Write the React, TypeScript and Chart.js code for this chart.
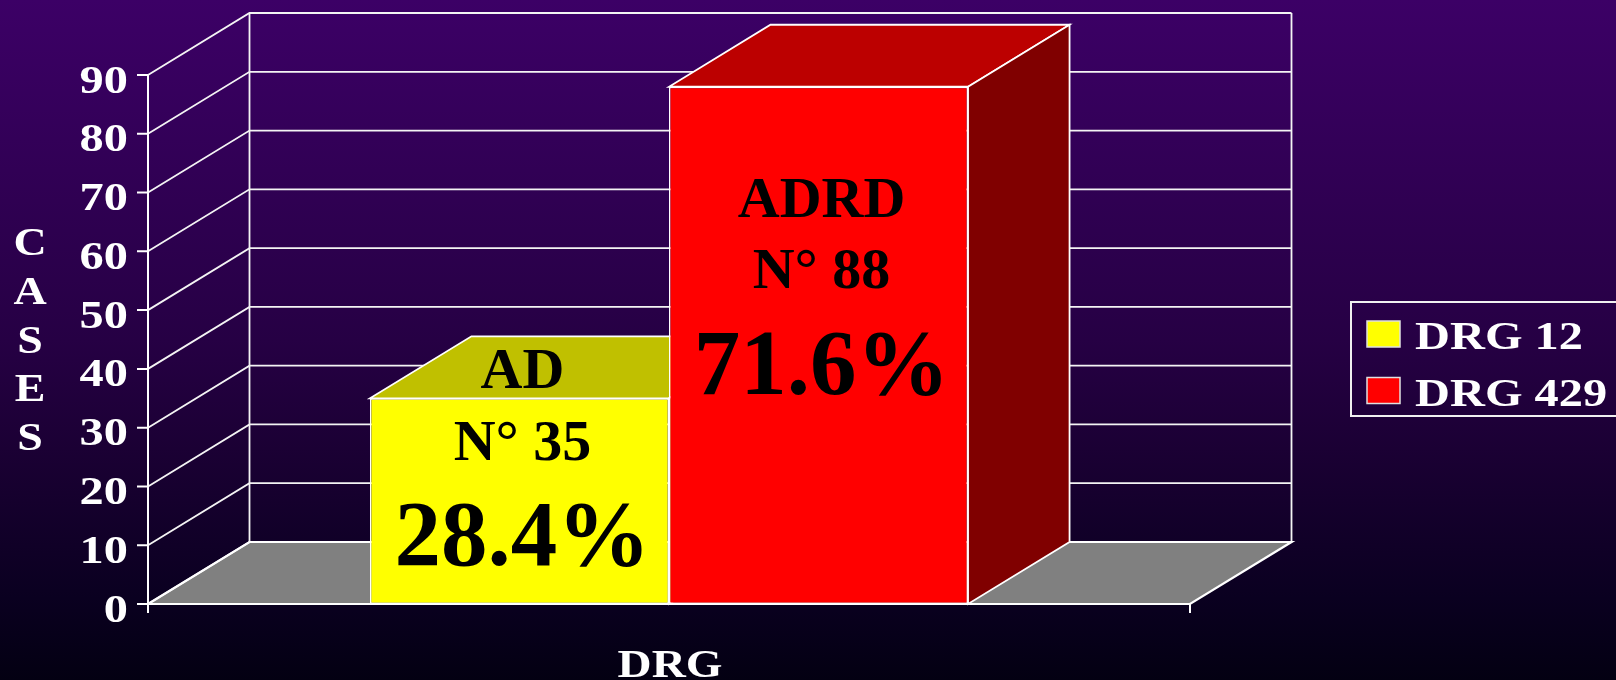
import React, { useEffect, useRef } from 'react';
import { Chart, registerables } from 'chart.js';

Chart.register(...registerables);

// ---- data ----
const categories = ['DRG'];
const seriesLabels = ['DRG 12', 'DRG 429'];
const seriesValues = [35, 88];
const seriesNames = ['AD', 'ADRD'];
const seriesShares = ['28.4%', '71.6%'];
const yTicks = [0, 10, 20, 30, 40, 50, 60, 70, 80, 90];
const yAxisTitle = 'CASES';
const xAxisTitle = 'DRG';

// ---- styles ----
const frontColors = ['#FFFF00', '#FF0000'];
const topColors = ['#C0C000', '#BC0000'];
const sideColors = ['#808000', '#800000'];
const DX = 101.5;
const DY = -62;
const SERIF = '"Liberation Serif", "Times New Roman", Times, serif';
const STRETCH = 1.18;

function drawText(ctx: CanvasRenderingContext2D, text: string, x: number, y: number, size: number, align: CanvasTextAlign, sx: number, color: string) {
  ctx.save();
  ctx.font = `bold ${size}px ${SERIF}`;
  ctx.fillStyle = color;
  ctx.textAlign = align;
  ctx.textBaseline = 'alphabetic';
  ctx.translate(x, y);
  ctx.scale(sx, 1);
  ctx.fillText(text, 0, 0);
  ctx.restore();
}

function poly(ctx: CanvasRenderingContext2D, pts: number[][]) {
  ctx.beginPath();
  ctx.moveTo(pts[0][0], pts[0][1]);
  for (let i = 1; i < pts.length; i++) ctx.lineTo(pts[i][0], pts[i][1]);
  ctx.closePath();
}

const pseudo3d = {
  id: 'pseudo3d',
  beforeDraw(chart: any) {
    const { ctx, width, height } = chart;
    const g = ctx.createLinearGradient(0, 0, 0, height);
    g.addColorStop(0, '#3C0066');
    g.addColorStop(0.5, '#260044');
    g.addColorStop(0.66, '#1B0034');
    g.addColorStop(0.88, '#0A0020');
    g.addColorStop(1, '#030012');
    ctx.save();
    ctx.fillStyle = g;
    ctx.fillRect(0, 0, width, height);
    ctx.restore();
  },
  beforeDatasetsDraw(chart: any) {
    const { ctx, chartArea: a, scales } = chart;
    const ys = scales.y;
    const L = a.left;
    const R = a.right;
    const B = ys.getPixelForValue(0);
    const T = ys.getPixelForValue(yTicks[yTicks.length - 1]);
    ctx.save();
    // floor
    poly(ctx, [[L, B], [R, B], [R + DX, B + DY], [L + DX, B + DY]]);
    ctx.fillStyle = '#808080';
    ctx.fill();
    // gridlines on side and back walls
    ctx.strokeStyle = '#F4F4F4';
    ctx.lineWidth = 1.8;
    yTicks.forEach((v) => {
      const y = ys.getPixelForValue(v);
      ctx.beginPath();
      ctx.moveTo(L, y);
      ctx.lineTo(L + DX, y + DY);
      if (v > 0) ctx.lineTo(R + DX, y + DY);
      ctx.stroke();
    });
    ctx.beginPath();
    ctx.moveTo(L + DX, B + DY);
    ctx.lineTo(L + DX, T + DY);
    ctx.moveTo(R + DX, B + DY);
    ctx.lineTo(R + DX, T + DY);
    ctx.stroke();
    // floor outline
    ctx.strokeStyle = '#FFFFFF';
    ctx.lineWidth = 2.2;
    poly(ctx, [[L, B], [R, B], [R + DX, B + DY], [L + DX, B + DY]]);
    ctx.stroke();
    // front axis + ticks
    ctx.lineWidth = 2;
    ctx.beginPath();
    ctx.moveTo(L, T);
    ctx.lineTo(L, B + 9);
    yTicks.forEach((v) => {
      const y = ys.getPixelForValue(v);
      ctx.moveTo(L - 11, y);
      ctx.lineTo(L, y);
    });
    ctx.moveTo(R, B);
    ctx.lineTo(R, B + 9);
    ctx.stroke();
    // tick labels
    yTicks.forEach((v) => {
      const y = ys.getPixelForValue(v);
      drawText(ctx, String(v), L - 20, y + 17.5, 41, 'right', STRETCH, '#FFFFFF');
    });
    // axis titles
    const letters = yAxisTitle.split('');
    letters.forEach((ch, i) => {
      drawText(ctx, ch, 30, 255 + i * 48.8, 39, 'center', STRETCH, '#FFFFFF');
    });
    drawText(ctx, xAxisTitle, (L + R) / 2 + 1, 677, 40, 'center', STRETCH, '#FFFFFF');
    ctx.restore();
  },
  beforeDatasetDraw() {
    return false;
  },
  afterDatasetsDraw(chart: any) {
    const { ctx } = chart;
    ctx.save();
    chart.data.datasets.forEach((ds: any, i: number) => {
      const meta = chart.getDatasetMeta(i);
      meta.data.forEach((el: any) => {
        const { x, y, base, width } = el.getProps(['x', 'y', 'base', 'width'], true);
        const l = x - width / 2;
        const r = x + width / 2;
        ctx.strokeStyle = '#FFFFFF';
        ctx.lineWidth = 1.8;
        poly(ctx, [[l, y], [r, y], [r + DX, y + DY], [l + DX, y + DY]]);
        ctx.fillStyle = topColors[i];
        ctx.fill();
        ctx.stroke();
        poly(ctx, [[r, y], [r + DX, y + DY], [r + DX, base + DY], [r, base]]);
        ctx.fillStyle = sideColors[i];
        ctx.fill();
        ctx.stroke();
        el.draw(ctx);
      });
    });
    // in-bar labels
    chart.data.datasets.forEach((ds: any, i: number) => {
      const meta = chart.getDatasetMeta(i);
      meta.data.forEach((el: any) => {
        const { x, y, base } = el.getProps(['x', 'y', 'base'], true);
        const cx = x + 3;
        const last = Math.min(y + 307, base - 39);
        drawText(ctx, seriesNames[i], cx, last - 177, 58, 'center', 1, '#000000');
        drawText(ctx, `N° ${seriesValues[i]}`, cx, last - 105.5, 58, 'center', 1, '#000000');
        drawText(ctx, seriesShares[i], cx, last, 93, 'center', 1, '#000000');
      });
    });
    // legend
    ctx.strokeStyle = '#F0F0F0';
    ctx.lineWidth = 2;
    ctx.strokeRect(1351, 302, 300, 114);
    seriesLabels.forEach((label, i) => {
      const top = 321 + i * 56.5;
      ctx.fillStyle = frontColors[i];
      ctx.fillRect(1367, top, 33, 26);
      ctx.strokeStyle = '#E0E0E0';
      ctx.lineWidth = 1.5;
      ctx.strokeRect(1367, top, 33, 26);
      drawText(ctx, label, 1415, 349 + i * 57, 41, 'left', STRETCH, '#FFFFFF');
    });
    ctx.restore();
  },
};

export default function App() {
  const ref = useRef<HTMLCanvasElement>(null);
  useEffect(() => {
    const canvas = ref.current;
    if (!canvas) return;
    const chart = new Chart(canvas, {
      type: 'bar',
      data: {
        labels: categories,
        datasets: seriesLabels.map((label, i) => ({
          label,
          data: [seriesValues[i]],
          backgroundColor: frontColors[i],
          borderColor: '#FFFFFF',
          borderWidth: 1.5,
          borderSkipped: false,
          categoryPercentage: 0.574,
          barPercentage: 1,
        })),
      },
      options: {
        responsive: false,
        maintainAspectRatio: false,
        animation: false,
        devicePixelRatio: 1,
        layout: { padding: { left: 148, right: 426, top: 75, bottom: 76 } },
        scales: {
          x: { display: false },
          y: { display: false, min: 0, max: 90 },
        },
        plugins: {
          legend: { display: false },
          tooltip: { enabled: false },
        },
      },
      plugins: [pseudo3d],
    });
    return () => chart.destroy();
  }, []);
  return (
    <div style={{ position: 'fixed', left: 0, top: 0, width: 1616, height: 680, overflow: 'hidden' }}>
      <canvas ref={ref} width={1616} height={680} style={{ display: 'block' }} />
    </div>
  );
}
